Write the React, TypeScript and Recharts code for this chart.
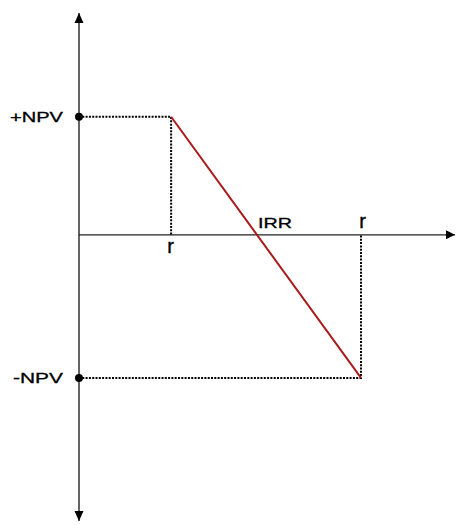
import { ComposedChart, Line, Scatter, XAxis, YAxis } from "recharts";

// rate axis (x) and NPV axis (y), in arbitrary units
const X_DOMAIN = [0, 4];
const Y_DOMAIN = [-240, 186];

const R_LOW = 0.98;
const R_HIGH = 3;
const NPV_POS = 99;
const NPV_NEG = -120;
const IRR = R_LOW + ((R_HIGH - R_LOW) * NPV_POS) / (NPV_POS - NPV_NEG);

const npvLine = [
  { x: R_LOW, y: NPV_POS },
  { x: R_HIGH, y: NPV_NEG },
];
const upperGuide = [
  { x: 0, y: NPV_POS },
  { x: R_LOW, y: NPV_POS },
  { x: R_LOW, y: 0 },
];
const lowerGuide = [
  { x: 0, y: NPV_NEG },
  { x: R_HIGH, y: NPV_NEG },
  { x: R_HIGH, y: 0 },
];
const yAxisLine = [
  { x: 0, y: Y_DOMAIN[0] },
  { x: 0, y: Y_DOMAIN[1] },
];
const xAxisLine = [
  { x: 0, y: 0 },
  { x: X_DOMAIN[1], y: 0 },
];
const arrowHeads = [
  { x: 0, y: Y_DOMAIN[1], dir: "up" },
  { x: 0, y: Y_DOMAIN[0], dir: "down" },
  { x: X_DOMAIN[1], y: 0, dir: "right" },
];
const npvPoints = [
  { x: 0, y: NPV_POS, text: "+NPV", len: 53 },
  { x: 0, y: NPV_NEG, text: "-NPV", len: 50 },
];
const rateLabels = [
  { x: R_LOW, y: 0, text: "r", pos: "below" },
  { x: IRR, y: 0, text: "IRR", pos: "aboveStart" },
  { x: R_HIGH, y: 0, text: "r", pos: "above" },
];

const FONT = "'Liberation Sans', Arial, sans-serif";
const INK = "#000";

function Arrow(props: any) {
  const { cx, cy, payload } = props;
  let pts = "";
  if (payload.dir === "up") pts = `${cx},${cy} ${cx - 4.5},${cy + 10} ${cx + 4.5},${cy + 10}`;
  if (payload.dir === "down") pts = `${cx},${cy} ${cx - 4.5},${cy - 10} ${cx + 4.5},${cy - 10}`;
  if (payload.dir === "right") pts = `${cx},${cy} ${cx - 9},${cy - 4.5} ${cx - 9},${cy + 4.5}`;
  return <polygon points={pts} fill={INK} />;
}

function NpvDot(props: any) {
  const { cx, cy, payload } = props;
  return (
    <g>
      <circle cx={cx} cy={cy} r={4} fill={INK} />
      <text
        x={cx - 16}
        y={cy + 5}
        textAnchor="end"
        fontFamily={FONT}
        fontSize={14}
        fill={INK}
        stroke={INK}
        strokeWidth={0.3}
        textLength={payload.len}
        lengthAdjust="spacingAndGlyphs"
      >
        {payload.text}
      </text>
    </g>
  );
}

function RateLabel(props: any) {
  const { cx, cy, payload } = props;
  if (payload.pos === "below") {
    return (
      <text x={cx - 0.5} y={cy + 18} textAnchor="middle" fontFamily={FONT} fontSize={20} fill={INK} stroke={INK} strokeWidth={0.4}>
        {payload.text}
      </text>
    );
  }
  if (payload.pos === "aboveStart") {
    return (
      <text
        x={cx + 1}
        y={cy - 6.5}
        textAnchor="start"
        fontFamily={FONT}
        fontSize={14}
        fill={INK}
        stroke={INK}
        strokeWidth={0.3}
        textLength={34}
        lengthAdjust="spacingAndGlyphs"
      >
        {payload.text}
      </text>
    );
  }
  return (
    <text x={cx + 1.5} y={cy - 6.5} textAnchor="middle" fontFamily={FONT} fontSize={20} fill={INK} stroke={INK} strokeWidth={0.4}>
      {payload.text}
    </text>
  );
}

export default function App() {
  return (
    <div style={{ position: "absolute", left: 0, top: 0, background: "#fff" }}>
      <ComposedChart width={456} height={525} margin={{ top: 13, right: 1, bottom: 4, left: 79 }}>
        <XAxis type="number" dataKey="x" domain={X_DOMAIN} hide />
        <YAxis type="number" dataKey="y" domain={Y_DOMAIN} hide />
        <Line data={yAxisLine} dataKey="y" stroke="#111" strokeWidth={1.3} dot={false} activeDot={false} isAnimationActive={false} />
        <Line data={xAxisLine} dataKey="y" stroke="#222" strokeWidth={1.3} dot={false} activeDot={false} isAnimationActive={false} />
        <Line data={upperGuide} dataKey="y" stroke={INK} strokeWidth={2} strokeDasharray="2 1.3" dot={false} activeDot={false} isAnimationActive={false} />
        <Line data={lowerGuide} dataKey="y" stroke={INK} strokeWidth={2} strokeDasharray="2 1.3" dot={false} activeDot={false} isAnimationActive={false} />
        <Line data={npvLine} dataKey="y" stroke="#a81c1c" strokeWidth={2} dot={false} activeDot={false} isAnimationActive={false} />
        <Scatter data={arrowHeads} shape={Arrow} fill={INK} isAnimationActive={false} />
        <Scatter data={npvPoints} shape={NpvDot} fill={INK} isAnimationActive={false} />
        <Scatter data={rateLabels} shape={RateLabel} fill={INK} isAnimationActive={false} />
      </ComposedChart>
    </div>
  );
}
